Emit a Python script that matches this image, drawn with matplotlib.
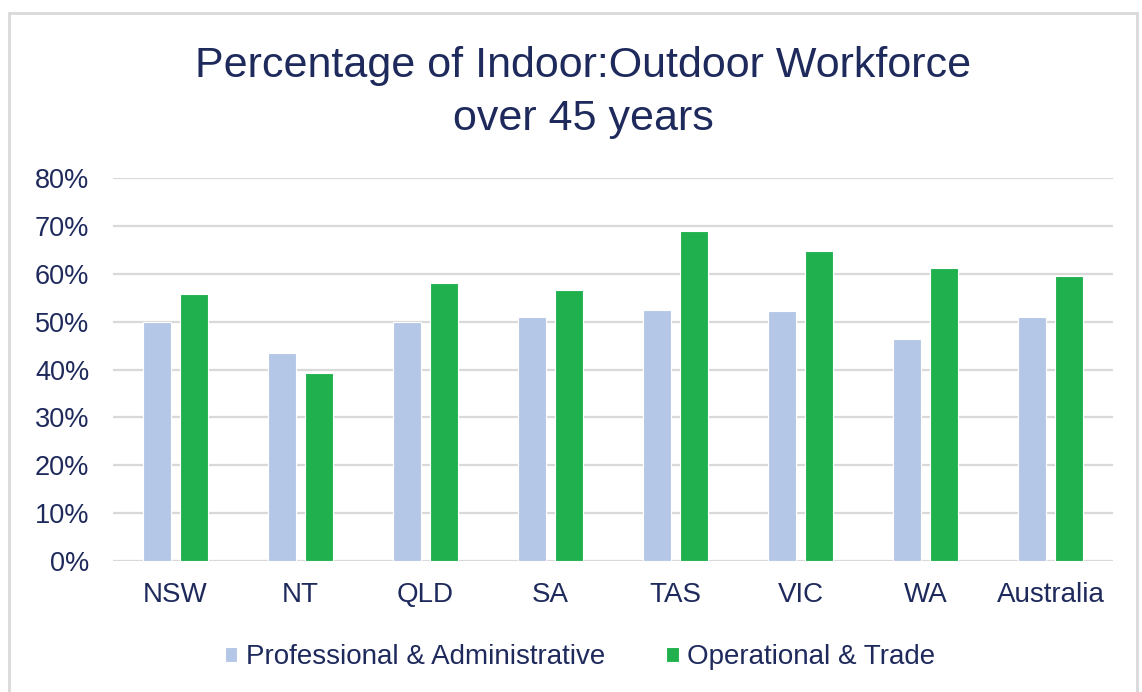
import numpy as np
import matplotlib.pyplot as plt
from matplotlib.patches import Rectangle
from matplotlib.ticker import PercentFormatter

plt.rcParams['font.family'] = ['Liberation Sans', 'DejaVu Sans']

# data
regions = ["NSW", "NT", "QLD", "SA", "TAS", "VIC", "WA", "Australia"]
prof_admin = [49.9, 43.4, 49.9, 50.9, 52.4, 52.2, 46.3, 50.9]
oper_trade = [55.7, 39.3, 58.0, 56.6, 69.0, 64.8, 61.2, 59.6]
series_names = ["Professional & Administrative", "Operational & Trade"]

navy = "#1F2A5C"
light_blue = "#B4C7E7"
green = "#20B14E"

W, H = 1142, 692
fig = plt.figure(figsize=(W/100, H/100), dpi=100)
# outer chart frame
fig.patches.append(Rectangle((9/W, -0.01), 1128/W, 1 - 13/H + 0.01,
                             transform=fig.transFigure, fill=False,
                             edgecolor="#D9D9D9", linewidth=2))

ax = fig.add_axes([113/W, 1 - 561/H, 1000/W, (561 - 178)/H])

x = np.arange(len(regions))
w = 0.23
gap = 0.065
ax.bar(x - (w + gap)/2, prof_admin, width=w, color=light_blue,
       edgecolor="white", linewidth=0.8, label=series_names[0], zorder=3)
ax.bar(x + (w + gap)/2, oper_trade, width=w, color=green,
       edgecolor="white", linewidth=0.8, label=series_names[1], zorder=3)

ax.set_xlim(-0.5, len(regions) - 0.5)
ax.set_ylim(0, 80)
ax.set_yticks(np.arange(0, 81, 10))
ax.yaxis.set_major_formatter(PercentFormatter(decimals=0))
ax.set_xticks(x)
ax.set_xticklabels(regions)
ax.grid(axis="y", color="#D9D9D9", linewidth=1.6, zorder=0)
for s in ax.spines.values():
    s.set_visible(False)
ax.tick_params(length=0, labelcolor=navy)
ax.tick_params(axis="y", pad=17, labelsize=19.5)
ax.tick_params(axis="x", pad=15, labelsize=20)

# title, two lines placed by baseline
fig.text(583/W, 1 - 77/H, "Percentage of Indoor:Outdoor Workforce",
         ha="center", va="baseline", fontsize=31, color=navy)
fig.text(583/W, 1 - 130/H, "over 45 years",
         ha="center", va="baseline", fontsize=31, color=navy)

fig.legend(loc="center", bbox_to_anchor=(580/W, 1 - 657/H), ncol=2,
           frameon=False, fontsize=20, labelcolor=navy, handlelength=0.45,
           handleheight=0.45, handletextpad=0.3, columnspacing=2.2)

fig.savefig("out.png", dpi=100)
